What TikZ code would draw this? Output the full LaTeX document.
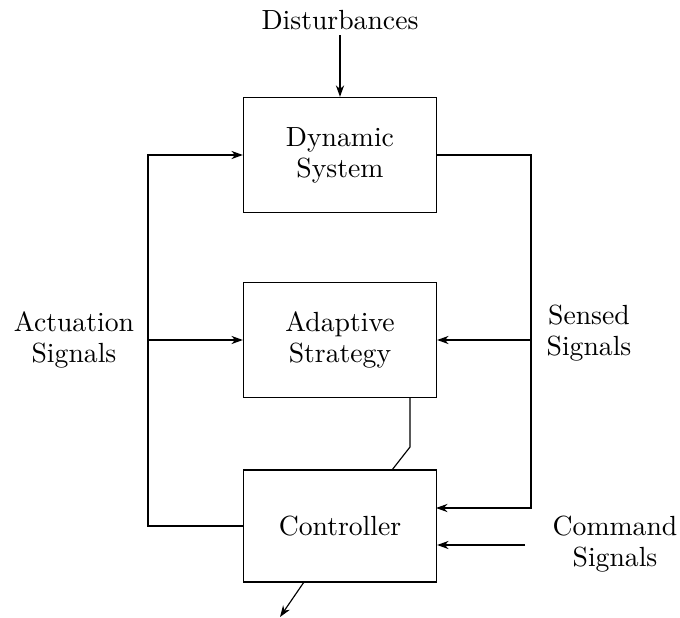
\documentclass[tikz,border=0pt]{standalone}
\usetikzlibrary{arrows.meta,calc}
\begin{document}
\begin{tikzpicture}[x=0.39pt,y=-0.39pt,
  every node/.style={font=\fontsize{10.8pt}{12pt}\selectfont},
  blk/.style={draw,line width=0.45pt,minimum width=75.3pt,minimum height=44.9pt,align=center,inner sep=0pt},
  lbl/.style={align=center,inner sep=3pt},
  arr/.style={-{Stealth[length=4.5pt,width=3.2pt]},line width=0.45pt},
  ln/.style={line width=0.45pt}]
\useasboundingbox (0,0) rectangle (680,618);
\node[blk] (ds) at (340,155) {Dynamic\\System};
\node[blk] (as) at (340,340) {Adaptive\\Strategy};
\node[blk,minimum height=43.7pt] (c) at (340,526) {Controller};
\node[lbl] (dist) at (340,20) {Disturbances};
\node[lbl] (act) at (74,340) {Actuation\\Signals};
\node[lbl] (sen) at (589,333) {Sensed\\Signals};
\node[lbl] (cmd) at (615,544) {Command\\Signals};
\coordinate (dst) at (340,35);
\coordinate (jl) at (148,340);
\coordinate (jr) at (531,340);
\coordinate (cin) at (436,508);
\coordinate (cmds) at (525,545);
\coordinate (as1) at (410,398);
\coordinate (as2) at (410,447);
\coordinate (c1) at (392,470);
\coordinate (o1) at (304,582);
\coordinate (o2) at (280,617);
\draw[arr] (dst) -- (ds.north);
\draw[arr] (c.west) -| (jl) |- (ds.west);
\draw[arr] (jl) -- (as.west);
\draw[arr] (ds.east) -| (jr) |- (cin);
\draw[arr] (jr) -- (as.east);
\draw[arr] (cmds) -- (cmds -| c.east);
\draw[ln] (as1) -- (as2) -- (c1);
\draw[arr] (o1) -- (o2);
\end{tikzpicture}
\end{document}
